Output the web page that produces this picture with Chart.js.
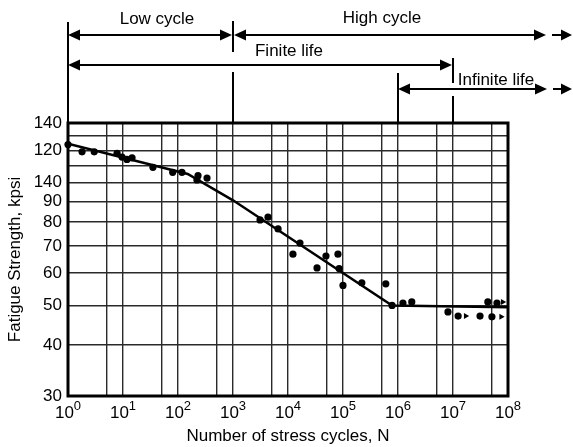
<!DOCTYPE html>
<html><head><meta charset="utf-8">
<script src="https://cdn.jsdelivr.net/npm/chart.js@4/dist/chart.umd.min.js"></script>
<style>html,body{margin:0;padding:0;background:#fff}#wrap{width:573px;height:447px;position:relative}</style>
</head><body><div id="wrap"><canvas id="c" width="573" height="447"></canvas></div>
<script>
// ---- data ----
const testCycles   = [1, 1.8, 3, 7.8, 9.6, 11.8, 14.6, 35, 80, 118, 221, 231, 337,
                      3100, 4330, 6600, 12300, 16500, 33700, 49000, 81000, 85000, 100000, 220000, 600000, 780000,
                      1230000, 1780000, 8100000, 12400000, 31000000, 51000000, 43000000, 63000000];
const testStrength = [124, 119, 119, 118, 115.5, 114, 115, 109, 106, 106, 101.5, 104, 102.6,
                      81, 82.3, 77, 66.8, 71.1, 61.8, 66.1, 66.8, 61.6, 56, 56.8, 56.5, 50,
                      50.7, 51, 48.2, 47.1, 47.1, 46.9, 51, 50.7];
const runoutCycles   = [17000000, 75000000, 80000000];
const runoutStrength = [47.1, 46.9, 51];
const curveCycles   = [1, 150, 1000, 780000, 100000000];
const curveStrength = [124.5, 105, 90.5, 50, 49.5];

const yTickValues = [30, 40, 50, 60, 70, 80, 90, 100, 110, 120, 130, 140];
const yTickLabels = ['30', '40', '50', '60', '70', '80', '90', '140', '', '120', '', '140'];
const xGridValues = [1, 5, 10, 50, 100, 500, 1e3, 5e3, 1e4, 5e4, 1e5, 5e5, 1e6, 5e6, 1e7, 5e7, 1e8];
const xTickValues = [1, 10, 100, 1e3, 1e4, 1e5, 1e6, 1e7, 1e8];
const xTickExponents = ['0', '1', '2', '3', '4', '5', '6', '7', '8'];

const regionNames = ['Low cycle', 'High cycle', 'Finite life', 'Infinite life'];
const lowCycleRange = [1, 1e3];
const highCycleStart = 1e3;
const finiteRange = [1, 1e7];
const infiniteStart = 1e6;

const FONT = "'Liberation Sans', Arial, Helvetica, sans-serif";

function pts(xs, ys) { return xs.map((x, i) => ({x: x, y: ys[i]})); }

function head(ctx, x, y, dir, len, hw) {
  ctx.beginPath();
  ctx.moveTo(x, y);
  ctx.lineTo(x - dir * len, y - hw);
  ctx.lineTo(x - dir * len, y + hw);
  ctx.closePath();
  ctx.fill();
}
function hline(ctx, x1, x2, y) { ctx.beginPath(); ctx.moveTo(x1, y); ctx.lineTo(x2, y); ctx.stroke(); }
function vline(ctx, x, y1, y2) { ctx.beginPath(); ctx.moveTo(x, y1); ctx.lineTo(x, y2); ctx.stroke(); }

const decor = {
  id: 'decor',
  beforeDatasetsDraw(chart) {
    const {ctx, chartArea: a} = chart;
    ctx.save();
    ctx.strokeStyle = '#000';
    ctx.lineWidth = 3;
    ctx.strokeRect(a.left, a.top, a.right - a.left, a.bottom - a.top);
    ctx.restore();
  },
  afterDraw(chart) {
    const {ctx, chartArea: a} = chart;
    const xs = chart.scales.x;
    ctx.save();
    ctx.fillStyle = '#000';
    ctx.textBaseline = 'alphabetic';
    // x tick labels 10^n
    xTickValues.forEach((v, i) => {
      const px = xs.getPixelForValue(v);
      ctx.font = '17px ' + FONT;
      const wb = ctx.measureText('10').width;
      ctx.font = '13px ' + FONT;
      const we = ctx.measureText(xTickExponents[i]).width;
      const x0 = px - (wb + we) / 2;
      ctx.font = '17px ' + FONT;
      ctx.textAlign = 'left';
      ctx.fillText('10', x0, a.bottom + 22);
      ctx.font = '13px ' + FONT;
      ctx.fillText(xTickExponents[i], x0 + wb, a.bottom + 14);
    });

    // region annotations
    const pL = xs.getPixelForValue(lowCycleRange[0]);
    const p3 = xs.getPixelForValue(lowCycleRange[1]);
    const pH = xs.getPixelForValue(highCycleStart);
    const p7 = xs.getPixelForValue(finiteRange[1]);
    const p6 = xs.getPixelForValue(infiniteStart);
    const farEnd = a.right + 38;
    const y1 = 35, y2 = 65, y3 = 89;
    ctx.strokeStyle = '#000';
    ctx.lineWidth = 2;
    // vertical guide lines
    vline(ctx, pL, 22, a.top);
    vline(ctx, p3, 21, 52);
    vline(ctx, p3, 72, a.top);
    vline(ctx, p7, 58, 83);
    vline(ctx, p7, 96, a.top);
    vline(ctx, p6, 73, a.top);
    // Low cycle
    hline(ctx, pL + 6, p3 - 6, y1);
    head(ctx, pL, y1, -1, 12, 5.5);
    head(ctx, p3 - 1, y1, 1, 12, 5.5);
    // High cycle
    hline(ctx, pH + 6, farEnd - 6, y1);
    head(ctx, pH + 1, y1, -1, 12, 5.5);
    head(ctx, farEnd, y1, 1, 12, 5.5);
    hline(ctx, farEnd + 6, farEnd + 20, y1);
    head(ctx, farEnd + 26, y1, 1, 11, 5.5);
    // Finite life
    hline(ctx, pL + 6, p7 - 6, y2);
    head(ctx, pL, y2, -1, 12, 5.5);
    head(ctx, p7 - 1, y2, 1, 12, 5.5);
    // Infinite life
    hline(ctx, p6 + 6, farEnd - 6, y3);
    head(ctx, p6, y3, -1, 12, 5.5);
    head(ctx, farEnd + 1, y3, 1, 12, 5.5);
    hline(ctx, farEnd + 7, farEnd + 20, y3);
    head(ctx, farEnd + 26, y3, 1, 11, 5.5);

    ctx.font = '17px ' + FONT;
    ctx.textAlign = 'center';
    ctx.textBaseline = 'middle';
    ctx.fillText(regionNames[0], 157, 19);
    ctx.fillText(regionNames[1], 382, 18);
    ctx.fillText(regionNames[2], 289, 51);
    ctx.fillText(regionNames[3], 496, 80);
    ctx.restore();
  }
};

new Chart(document.getElementById('c'), {
  type: 'scatter',
  data: {
    datasets: [
      { label: 'S-N curve', data: pts(curveCycles, curveStrength), showLine: true, borderColor: '#000',
        borderWidth: 2.5, pointRadius: 0, fill: false, tension: 0, order: 2 },
      { label: 'Test data', data: pts(testCycles, testStrength), showLine: false, pointRadius: 3.6,
        pointBackgroundColor: '#000', pointBorderColor: '#000', pointBorderWidth: 0, clip: false, order: 1 },
      { label: 'Runouts', data: pts(runoutCycles, runoutStrength), showLine: false, pointStyle: 'triangle',
        rotation: 90, pointRadius: 3.5, pointBackgroundColor: '#000', pointBorderColor: '#000',
        pointBorderWidth: 0, clip: false, order: 1 }
    ]
  },
  options: {
    responsive: false, animation: false, devicePixelRatio: 1,
    layout: { padding: { top: 123, right: 65, left: 0, bottom: 0 } },
    plugins: { legend: { display: false }, tooltip: { enabled: false } },
    scales: {
      x: {
        type: 'logarithmic', min: 1, max: 1e8,
        afterBuildTicks: s => { s.ticks = xGridValues.map(v => ({ value: v })); },
        afterFit: s => { s.height = 51; },
        grid: { color: '#2a2a2a', lineWidth: 1.4, drawTicks: false },
        border: { display: false },
        ticks: { display: false, autoSkip: false },
        title: { display: true, text: 'Number of stress cycles, N', color: '#000',
                 font: { family: FONT, size: 17 }, padding: { top: 0, bottom: 0 } }
      },
      y: {
        type: 'logarithmic', min: 30, max: 140,
        afterBuildTicks: s => { s.ticks = yTickValues.map(v => ({ value: v })); },
        afterFit: s => { s.width = 68; },
        grid: { color: '#2a2a2a', lineWidth: 1.4, drawTicks: false },
        border: { display: false },
        ticks: { autoSkip: false, color: '#000', padding: 6, font: { family: FONT, size: 17 },
                 callback: v => { const i = yTickValues.indexOf(v); return i < 0 ? '' : yTickLabels[i]; } },
        title: { display: true, text: 'Fatigue Strength, kpsi', color: '#000',
                 font: { family: FONT, size: 17 }, padding: { top: 5, bottom: 0 } }
      }
    }
  },
  plugins: [decor]
});
</script>
</body></html>
